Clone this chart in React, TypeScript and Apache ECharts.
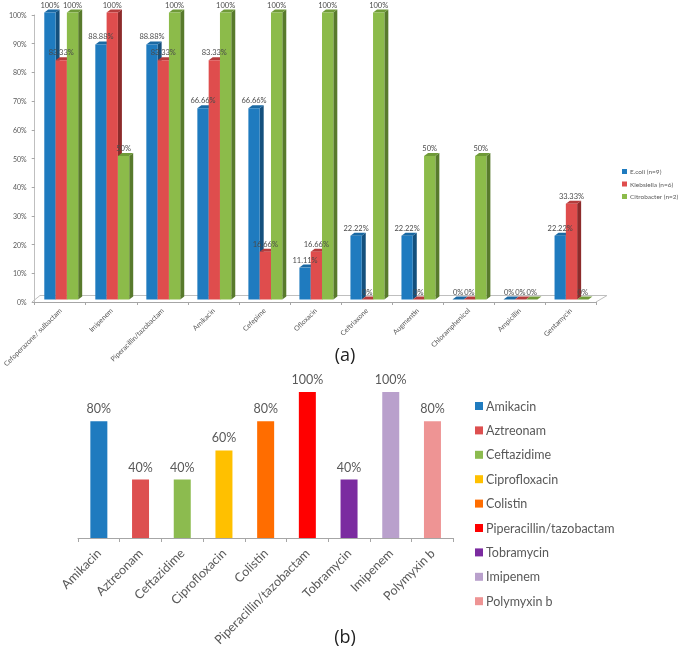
import React, { useEffect, useRef } from "react";
import * as echarts from "echarts";

const FONT = "Lato";
const TEXT = "#595959";

const categoriesA = ["Cefoperazone/ sulbactam", "Imipenem", "Piperacillin/tazobactam", "Amikacin", "Cefepime", "Ofloxacin", "Ceftriaxone", "Augmentin", "Chloramphenicol", "Ampicillin", "Gentamycin"];
const ecoli = [100, 88.88, 88.88, 66.66, 66.66, 11.11, 22.22, 22.22, 0, 0, 22.22];
const klebsiella = [83.33, 100, 83.33, 83.33, 16.66, 16.66, 0, 0, 0, 0, 33.33];
const citrobacter = [100, 50, 100, 100, 100, 100, 100, 50, 50, 0, 0];
const seriesNamesA = ["E.coli (n=9)", "Klebsiella (n=6)", "Citrobacter (n=2)"];
const frontColors = ["#1F7BBF", "#DF4D4D", "#8CBB4A"];
const sideColors = ["#14507D", "#8D2B2B", "#587A2C"];
const topColors = ["#1A69A3", "#B53C3C", "#6F9A38"];

const categoriesB = ["Amikacin", "Aztreonam", "Ceftazidime", "Ciprofloxacin", "Colistin", "Piperacillin/tazobactam", "Tobramycin", "Imipenem", "Polymyxin b"];
const valuesB = [80, 40, 40, 60, 80, 100, 40, 100, 80];
const colorsB = ["#1F7BBF", "#DD4F4F", "#8CBB4F", "#FFC000", "#FF6D00", "#FF0000", "#7B2BA0", "#B9A0CC", "#EE9494"];

const BAR_W = 11.3;
const DEPTH_X = 4;
const DEPTH_Y = 3;

function render3dBar(seriesPos: number) {
  return (_params: any, api: any) => {
    const idx = api.value(0);
    const val = api.value(1);
    const base = api.coord([idx, 0]);
    const top = api.coord([idx, val]);
    const x0 = base[0] + 1 + (seriesPos - 1) * BAR_W - BAR_W / 2;
    const x1 = x0 + BAR_W;
    const yb = base[1] - 2.5;
    const yt = top[1] - 2.5;
    return {
      type: "group",
      children: [
        {
          type: "polygon",
          shape: { points: [[x1, yb], [x1 + DEPTH_X, yb - DEPTH_Y], [x1 + DEPTH_X, yt - DEPTH_Y], [x1, yt]] },
          style: { fill: sideColors[seriesPos] },
        },
        {
          type: "polygon",
          shape: { points: [[x0, yt], [x0 + DEPTH_X, yt - DEPTH_Y], [x1 + DEPTH_X, yt - DEPTH_Y], [x1, yt]] },
          style: { fill: topColors[seriesPos] },
        },
        {
          type: "rect",
          shape: { x: x0, y: yt, width: BAR_W, height: yb - yt },
          style: { fill: frontColors[seriesPos] },
        },
        {
          type: "text",
          z2: 100,
          style: {
            x: (x0 + x1) / 2,
            y: yt - 7.5,
            text: `${val}%`,
            fill: "#4A4A4A",
            font: `7.5px ${FONT}`,
            align: "center",
            verticalAlign: "middle",
          },
        },
      ],
    };
  };
}

const seriesA = [ecoli, klebsiella, citrobacter].map((vals, s) => ({
  type: "custom",
  name: seriesNamesA[s],
  xAxisIndex: 0,
  yAxisIndex: 0,
  encode: { x: 0, y: 1 },
  itemStyle: { color: frontColors[s] },
  renderItem: render3dBar(s),
  data: vals.map((v, i) => [i, v]),
}));

const seriesB = categoriesB.map((name, s) => ({
  type: "bar",
  name,
  xAxisIndex: 1,
  yAxisIndex: 1,
  barWidth: 17,
  barGap: "-100%",
  itemStyle: { color: colorsB[s] },
  label: {
    show: true,
    position: "top",
    distance: 6,
    formatter: "{c}%",
    color: TEXT,
    fontFamily: FONT,
    fontSize: 12.5,
  },
  data: valuesB.map((v, i) => (i === s ? v : null)),
}));

const floorStyle = { stroke: "#BFBFBF", lineWidth: 1, fill: "none" };

const option: any = {
  animation: false,
  backgroundColor: "#ffffff",
  textStyle: { fontFamily: FONT },
  title: [
    { text: "(a)", left: 340, top: 340, textAlign: "center", textStyle: { fontFamily: "Open Sans", fontWeight: "normal", fontSize: 18, color: "#222222" } },
    { text: "(b)", left: 340, top: 622, textAlign: "center", textStyle: { fontFamily: "Open Sans", fontWeight: "normal", fontSize: 18, color: "#222222" } },
  ],
  grid: [
    { left: 32, top: 15, width: 564, height: 287, containLabel: false },
    { left: 78, top: 392, width: 375.3, height: 146, containLabel: false },
  ],
  xAxis: [
    {
      type: "category",
      gridIndex: 0,
      data: categoriesA,
      axisLine: { lineStyle: { color: "#A6A6A6" } },
      axisTick: { show: true, length: 3, lineStyle: { color: "#A6A6A6" } },
      axisLabel: { rotate: 45, interval: 0, fontSize: 7, color: TEXT, fontFamily: FONT, margin: 7 },
    },
    {
      type: "category",
      gridIndex: 1,
      data: categoriesB,
      axisLine: { lineStyle: { color: "#A6A6A6" } },
      axisTick: { show: true, length: 4, lineStyle: { color: "#A6A6A6" } },
      axisLabel: { rotate: 45, interval: 0, fontSize: 12.5, color: TEXT, fontFamily: FONT, margin: 13 },
    },
  ],
  yAxis: [
    {
      type: "value",
      gridIndex: 0,
      min: 0,
      max: 100,
      interval: 10,
      axisLine: { show: true, lineStyle: { color: "#BFBFBF" } },
      axisTick: { show: true, length: 3, lineStyle: { color: "#A6A6A6" } },
      splitLine: { show: false },
      axisLabel: { fontSize: 7, color: TEXT, fontFamily: FONT, margin: 8, formatter: "{value}%" },
    },
    { type: "value", gridIndex: 1, min: 0, max: 100, show: false, splitLine: { show: false } },
  ],
  legend: [
    {
      orient: "vertical",
      left: 622,
      top: 168,
      itemWidth: 5,
      itemHeight: 5,
      itemGap: 5.5,
      icon: "rect",
      data: seriesNamesA,
      textStyle: { fontSize: 6.5, color: TEXT, fontFamily: FONT, padding: [0, 0, 0, -2] },
      padding: 0,
    },
    {
      orient: "vertical",
      left: 475,
      top: 399,
      itemWidth: 8,
      itemHeight: 8,
      itemGap: 10.4,
      icon: "rect",
      data: categoriesB,
      textStyle: { fontSize: 12.5, lineHeight: 14, color: TEXT, fontFamily: FONT, padding: [0, 0, 0, -2] },
      padding: 0,
    },
  ],
  graphic: [
    { type: "polyline", shape: { points: [[32, 302], [40, 295.5], [607, 295.5], [596, 302]] }, style: floorStyle, z: 0 },
  ],
  series: [...seriesA, ...seriesB],
};

export default function App() {
  const ref = useRef<HTMLDivElement>(null);
  useEffect(() => {
    const chart = echarts.init(ref.current!, undefined, { renderer: "svg" });
    chart.setOption(option);
    return () => chart.dispose();
  }, []);
  return <div ref={ref} style={{ position: "absolute", left: 0, top: 0, width: 680, height: 650, filter: "blur(0.4px)" }} />;
}
